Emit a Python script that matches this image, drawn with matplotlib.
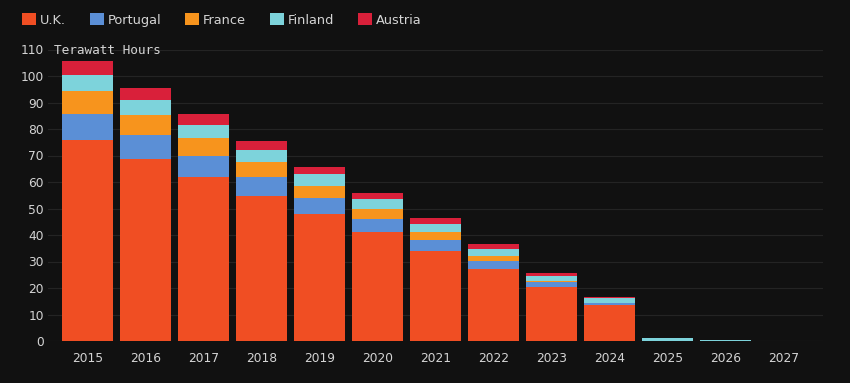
import numpy as np
import matplotlib
matplotlib.use("Agg")
import matplotlib.pyplot as plt
from matplotlib.patches import Patch

# data (TWh)
years = ["2015", "2016", "2017", "2018", "2019", "2020", "2021",
         "2022", "2023", "2024", "2025", "2026", "2027"]
uk = [75.8, 68.8, 61.9, 54.8, 47.9, 41.0, 34.0, 27.0, 20.3, 13.5, 0, 0, 0]
portugal = [10.0, 8.8, 7.9, 7.0, 5.9, 5.0, 4.1, 3.2, 2.1, 1.0, 0, 0, 0]
france = [8.4, 7.8, 6.8, 5.6, 4.8, 3.7, 2.9, 2.0, 0.1, 0, 0, 0, 0]
finland = [6.2, 5.6, 4.9, 4.7, 4.3, 3.8, 3.0, 2.5, 2.1, 1.6, 1.0, 0.5, 0]
austria = [5.1, 4.6, 4.3, 3.5, 2.9, 2.5, 2.3, 1.8, 1.0, 0.6, 0, 0, 0]

series = [("U.K.", uk, "#f04e23"),
          ("Portugal", portugal, "#5b8fd6"),
          ("France", france, "#f7941d"),
          ("Finland", finland, "#7dd3db"),
          ("Austria", austria, "#d9203a")]

bg = "#111111"
txt = "#d4d4d4"

fig = plt.figure(figsize=(8.5, 3.83), dpi=100, facecolor=bg)
ax = fig.add_axes([48 / 850, 1 - 341 / 383, (823 - 48) / 850, (341 - 49.5) / 383])
ax.set_facecolor(bg)

x = np.arange(len(years))
bottom = np.zeros(len(years))
for name, vals, col in series:
    vals = np.array(vals)
    ax.bar(x, vals, width=0.88, bottom=bottom, color=col, linewidth=0, zorder=3)
    bottom += vals

ax.set_xlim(-0.68, len(years) - 1 + 0.68)
ax.set_ylim(0, 110)
ax.set_yticks(np.arange(0, 111, 10))
ax.set_yticklabels([str(v) for v in range(0, 110, 10)] + ["110"])
ax.set_xticks(x)
ax.set_xticklabels(years)
ax.grid(axis="y", color="#242424", linewidth=0.8, zorder=0)
ax.tick_params(axis="both", length=0, colors=txt, labelsize=8.8)
ax.tick_params(axis="y", pad=3)
ax.tick_params(axis="x", pad=8)
for s in ax.spines.values():
    s.set_visible(False)

# unit label next to top tick
fig.text(54 / 850, 1 - 50 / 383, "Terawatt Hours", color=txt, fontsize=9.2,
         family="DejaVu Sans Mono", va="center", ha="left")

handles = [Patch(facecolor=c, edgecolor="none", label=n) for n, _, c in series]
leg = fig.legend(handles=handles, loc="center left", bbox_to_anchor=(22 / 850, 1 - 20 / 383),
                 ncol=5, frameon=False, borderpad=0, borderaxespad=0,
                 handlelength=1.08, handleheight=1.08,
                 handletextpad=0.3, columnspacing=1.85,
                 prop={"family": "DejaVu Sans", "size": 9.3})
for t in leg.get_texts():
    t.set_color(txt)

fig.savefig("out.png", dpi=100, facecolor=bg)
